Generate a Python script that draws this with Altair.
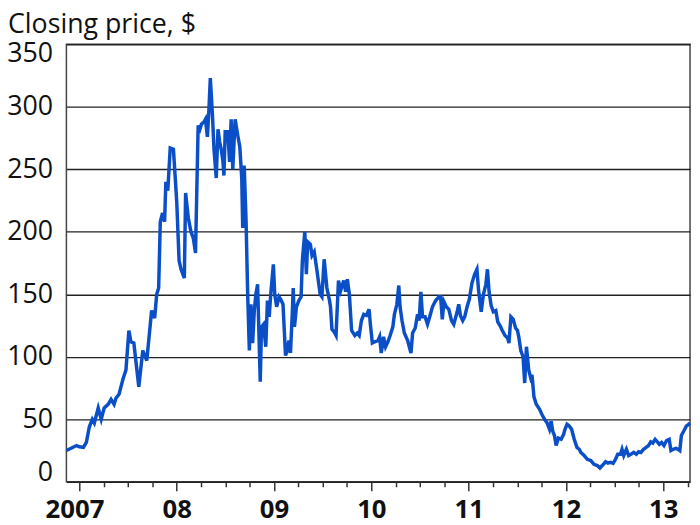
import altair as alt
import pandas as pd

years = [
    2006.866, 2006.919, 2006.969, 2007.000, 2007.041, 2007.071, 2007.102, 2007.132, 2007.153, 2007.193,
    2007.224, 2007.254, 2007.295, 2007.325, 2007.356, 2007.376, 2007.407, 2007.447, 2007.478, 2007.508,
    2007.529, 2007.559, 2007.610, 2007.651, 2007.692, 2007.712, 2007.742, 2007.773, 2007.794, 2007.814,
    2007.831, 2007.854, 2007.875, 2007.888, 2007.908, 2007.933, 2007.966, 2008.000, 2008.024, 2008.044,
    2008.078, 2008.091, 2008.119, 2008.146, 2008.170, 2008.193, 2008.220, 2008.238, 2008.254, 2008.281,
    2008.295, 2008.315, 2008.329, 2008.345, 2008.366, 2008.383, 2008.406, 2008.424, 2008.441, 2008.457,
    2008.475, 2008.485, 2008.498, 2008.525, 2008.543, 2008.559, 2008.576, 2008.600, 2008.627, 2008.648,
    2008.668, 2008.678, 2008.693, 2008.712, 2008.729, 2008.746, 2008.762, 2008.780, 2008.797, 2008.813,
    2008.831, 2008.858, 2008.871, 2008.892, 2008.915, 2008.932, 2008.950, 2008.966, 2008.993, 2009.007,
    2009.027, 2009.051, 2009.068, 2009.092, 2009.118, 2009.136, 2009.153, 2009.169, 2009.187, 2009.197,
    2009.210, 2009.230, 2009.255, 2009.278, 2009.291, 2009.316, 2009.332, 2009.346, 2009.373, 2009.390,
    2009.413, 2009.441, 2009.474, 2009.492, 2009.515, 2009.543, 2009.570, 2009.580, 2009.595, 2009.617,
    2009.637, 2009.662, 2009.685, 2009.716, 2009.736, 2009.753, 2009.774, 2009.797, 2009.830, 2009.855,
    2009.875, 2009.898, 2009.922, 2009.949, 2009.977, 2009.990, 2010.010, 2010.034, 2010.068, 2010.085,
    2010.102, 2010.125, 2010.146, 2010.170, 2010.193, 2010.221, 2010.237, 2010.262, 2010.282, 2010.295,
    2010.315, 2010.339, 2010.373, 2010.407, 2010.424, 2010.451, 2010.475, 2010.491, 2010.509, 2010.526,
    2010.552, 2010.577, 2010.600, 2010.628, 2010.661, 2010.695, 2010.712, 2010.729, 2010.746, 2010.770,
    2010.796, 2010.824, 2010.847, 2010.882, 2010.898, 2010.915, 2010.939, 2010.959, 2010.984, 2011.007,
    2011.034, 2011.061, 2011.085, 2011.102, 2011.129, 2011.152, 2011.177, 2011.193, 2011.210, 2011.231,
    2011.254, 2011.279, 2011.299, 2011.322, 2011.346, 2011.373, 2011.401, 2011.414, 2011.434, 2011.458,
    2011.482, 2011.502, 2011.515, 2011.536, 2011.559, 2011.576, 2011.594, 2011.617, 2011.638, 2011.651,
    2011.671, 2011.695, 2011.729, 2011.752, 2011.780, 2011.807, 2011.831, 2011.848, 2011.864, 2011.882,
    2011.899, 2011.922, 2011.950, 2011.976, 2011.990, 2012.011, 2012.034, 2012.058, 2012.085, 2012.113,
    2012.136, 2012.153, 2012.187, 2012.220, 2012.255, 2012.288, 2012.322, 2012.349, 2012.373, 2012.407,
    2012.431, 2012.458, 2012.485, 2012.509, 2012.532, 2012.560, 2012.576, 2012.594, 2012.621, 2012.644,
    2012.668, 2012.695, 2012.723, 2012.746, 2012.770, 2012.797, 2012.824, 2012.848, 2012.871, 2012.892,
    2012.916, 2012.939, 2012.960, 2012.983, 2013.007, 2013.034, 2013.061, 2013.079, 2013.102, 2013.130,
    2013.153, 2013.170, 2013.186, 2013.211, 2013.237, 2013.260, 2013.275,
]

# closing price, $
prices = [
    25, 27, 29, 28, 27.5, 31.5, 44, 50, 47, 59,
    50, 59, 62, 66, 62, 67, 70, 82, 89.5, 121,
    112, 111, 76, 105, 97, 113, 137, 131, 150, 155,
    208, 215, 208, 240, 233, 267, 266, 224, 177, 170,
    163, 231, 211, 200, 195, 183, 285, 282, 286, 288,
    290, 276, 295, 323, 295, 266, 243, 282, 272, 266,
    256, 245, 280, 280, 256, 290, 250, 290, 277, 268,
    243, 203, 253, 210, 150, 105, 142, 111, 137, 150,
    158, 80, 124, 126, 108, 145, 132, 150, 174, 150,
    140, 148, 146, 142, 101, 105, 113, 103, 134, 155,
    124, 140, 145, 148, 177, 200, 166, 192, 190, 181,
    184, 169, 150, 148, 178, 155, 145, 140, 122, 120,
    117, 161, 153, 161, 152, 162, 150, 121, 117, 119,
    117, 129, 134, 133, 138, 126, 111, 112, 113, 116,
    103, 116, 108, 112, 117, 124, 134, 142, 157, 140,
    129, 119, 113, 103, 119, 123, 134, 129, 152, 132,
    132, 126, 132, 140, 145, 148, 148, 130, 144, 140,
    138, 129, 126, 136, 142, 133, 129, 132, 140, 146,
    159, 166, 170, 153, 136, 150, 158, 170, 152, 141,
    136, 137, 128, 125, 121, 117, 115, 111, 132, 130,
    123, 121, 116, 105, 100, 79, 108, 89.5, 83, 85.5,
    68, 62, 58, 54, 50, 47, 42, 48.5, 40.6, 37,
    29, 35, 34, 38, 42, 46, 44.6, 42, 34, 27.5,
    26, 23.5, 21, 18, 17, 14, 13, 11, 13, 16,
    15, 15.6, 14.8, 18, 22, 22, 26, 21, 26, 21,
    22, 23.5, 22, 24, 23.5, 26, 27.5, 29, 32, 31,
    34, 32, 30, 31.5, 29, 33, 34, 25, 26, 26.7,
    26, 25, 37, 40.6, 44.6, 46, 47,
]

year_ticks = [2007, 2008, 2009, 2010, 2011, 2012, 2013]
year_labels = ["2007", "08", "09", "10", "11", "12", "13"]
price_ticks = [0, 50, 100, 150, 200, 250, 300, 350]

df = pd.DataFrame({"year": years, "price": prices})

quarter_ticks = [y + q / 4 for y in year_ticks for q in range(4) if y + q / 4 <= 2013.25]

label_expr = " : ".join(
    f"datum.value == {v} ? '{t}'" for v, t in zip(year_ticks, year_labels)
) + " : ''"

FONT = "Open Sans"

chart = (
    alt.Chart(df)
    .mark_line(color="#0a4fc8", strokeWidth=3.5, strokeJoin="miter")
    .encode(
        x=alt.X(
            "year:Q",
            scale=alt.Scale(domain=[2006.866, 2013.275], nice=False, zero=False),
            axis=alt.Axis(
                title=None,
                values=quarter_ticks,
                labelExpr=label_expr,
                grid=False,
                domain=False,
                tickColor="#333",
                tickWidth=1.5,
                tickSize={"condition": {"test": "datum.value % 1 == 0", "value": 9}, "value": 5},
                labelOffset={"condition": {"test": "datum.value == 2007", "value": -5}, "value": 0},
                labelFont=FONT,
                labelFontSize=26,
                labelFontWeight="bold",
                labelColor="#111",
                labelPadding=6,
                labelFlush=False,
                labelOverlap=False,
            ),
        ),
        y=alt.Y(
            "price:Q",
            scale=alt.Scale(domain=[0, 350], nice=False),
            axis=alt.Axis(
                title=None,
                values=price_ticks,
                grid=True,
                gridColor="#222",
                gridWidth=1.4,
                domain=False,
                ticks=False,
                tickSize=0,
                labelPadding=14,
                labelFont=FONT,
                labelFontSize=27,
                labelColor="#111",
                labelFlush=True,
                labelOffset={
                    "condition": [
                        {"test": "datum.value == 350", "value": -4},
                        {"test": "datum.value == 0", "value": 5},
                    ],
                    "value": 0,
                },
            ),
        ),
    )
    .properties(
        width=630,
        height=442,
        autosize=alt.AutoSizeParams(type="none"),
        padding={"left": 59, "top": 34, "right": 2, "bottom": 41},
        title=alt.TitleParams(
            "Closing price, $",
            anchor="start",
            frame="group",
            dx=-59,
            dy=0,
            offset=0,
            font=FONT,
            fontSize=27,
            fontWeight="normal",
            color="#111",
        ),
    )
    .configure_view(stroke="#444", strokeWidth=1.5)
)

chart.save("out.html", embed_options={"renderer": "svg", "actions": False})
